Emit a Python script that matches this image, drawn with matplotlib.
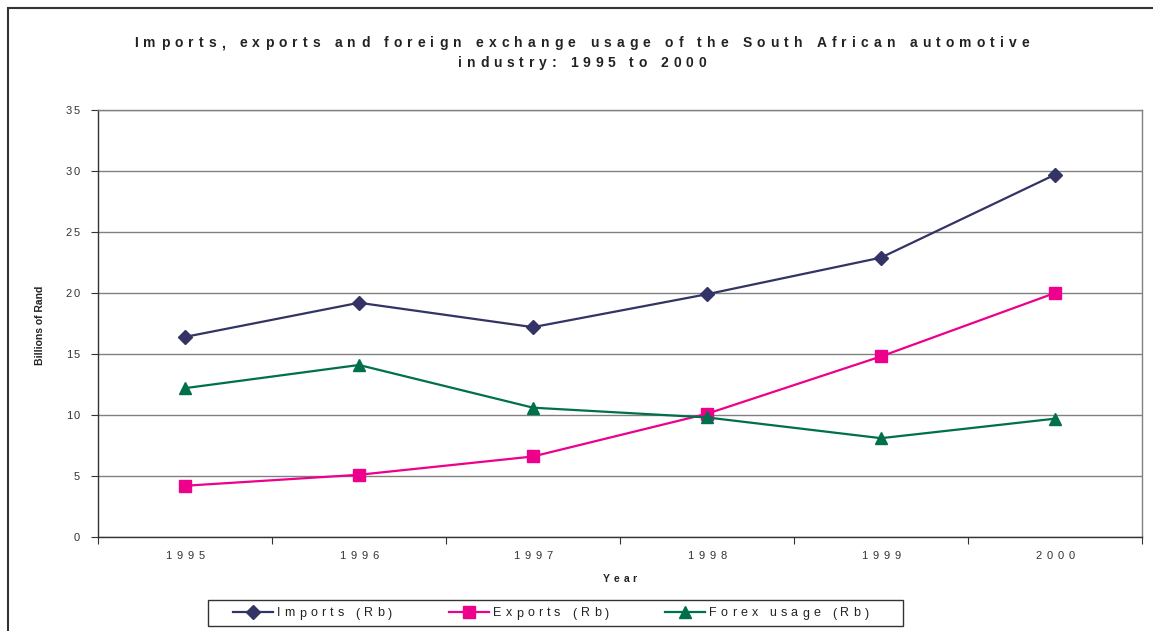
import matplotlib
matplotlib.use("Agg")
import matplotlib.pyplot as plt
import matplotlib.transforms as mtransforms
from matplotlib.font_manager import FontProperties, findfont, get_font
from matplotlib.lines import Line2D
from matplotlib.patches import Rectangle

years = ["1995", "1996", "1997", "1998", "1999", "2000"]
imports_rb = [16.4, 19.2, 17.2, 19.9, 22.9, 29.7]
exports_rb = [4.2, 5.1, 6.6, 10.1, 14.8, 20.0]
forex_rb = [12.2, 14.1, 10.6, 9.8, 8.1, 9.7]

series_labels = ["Imports (Rb)", "Exports (Rb)", "Forex usage (Rb)"]
series_colors = ["#333366", "#EC008C", "#00704A"]
series_markers = ["D", "s", "^"]
series_msize = [7, 8, 9]

FONT = "Liberation Sans"
W, H = 1153, 631


def tracked_text(fig, s, x, y, transform, size, weight="normal", track=2.0,
                 ha="center", va="baseline", color="#222222"):
    """Draw text char by char with extra letter spacing (track, in points)."""
    fp = FontProperties(family=FONT, weight=weight, size=size)
    font = get_font(findfont(fp))
    font.set_size(size, 72)
    advs = []
    for ch in s:
        g = font.load_char(ord(ch))
        advs.append(g.linearHoriAdvance / 65536.0)
    total = sum(advs) + track * (len(s) - 1)
    if ha == "center":
        start = -total / 2
    elif ha == "right":
        start = -total
    else:
        start = 0.0
    pos = start
    for ch, a in zip(s, advs):
        if ch != " ":
            tr = mtransforms.offset_copy(transform, fig=fig, x=pos, y=0, units="points")
            fig.text(x, y, ch, transform=tr, fontproperties=fp, ha="left", va=va,
                     color=color)
        pos += a + track


fig = plt.figure(figsize=(W / 100, H / 100), dpi=100)
ax = fig.add_axes([98 / W, 1 - 537 / H, (1142 - 98) / W, (537 - 110) / H])

x = list(range(len(years)))
for vals, lab, col, mk, ms in zip([imports_rb, exports_rb, forex_rb], series_labels,
                                  series_colors, series_markers, series_msize):
    ax.plot(x, vals, color=col, lw=1.6, marker=mk, markersize=ms,
            markeredgecolor=col, markerfacecolor=col, label=lab, zorder=3)

ax.set_xlim(-0.5, len(years) - 0.5)
ax.set_ylim(0, 35)
ax.set_yticks(range(0, 36, 5))
ax.yaxis.grid(True, color="#808080", lw=1.0)
ax.set_axisbelow(True)

# category ticks sit between the years
ax.set_xticks([i + 0.5 for i in range(-1, len(years))])
ax.set_xticklabels([])
ax.set_yticklabels([])
ax.tick_params(axis="both", direction="out", length=5, width=0.8, color="#333333")

for side in ["top", "right"]:
    ax.spines[side].set_color("#808080")
    ax.spines[side].set_linewidth(1.0)
for side in ["left", "bottom"]:
    ax.spines[side].set_color("#333333")
    ax.spines[side].set_linewidth(1.0)

# tick labels
ytrans = ax.get_yaxis_transform()
for v in range(0, 36, 5):
    tracked_text(fig, str(v), -0.017, v, ytrans, 8, track=1.6, ha="right",
                 va="center_baseline", color="#333333")
xtrans = ax.get_xaxis_transform()
for i, yr in enumerate(years):
    tracked_text(fig, yr, i, -0.033, xtrans, 8, track=3.6, ha="center",
                 va="top", color="#333333")

# axis titles
tracked_text(fig, "Year", 620 / W, 1 - 582 / H, fig.transFigure, 7.5, weight="bold",
             track=2.6, ha="center", color="#222222")
fig.text(40 / W, 1 - 325 / H, "Billions of Rand", rotation=90, ha="center",
         va="center", fontsize=7.5, fontweight="bold", family=FONT, color="#222222")

# title
tracked_text(fig, "Imports, exports and foreign exchange usage of the South African automotive",
             582 / W, 1 - 47 / H, fig.transFigure, 10, weight="bold", track=3.7,
             color="#222222")
tracked_text(fig, "industry: 1995 to 2000", 582 / W, 1 - 67 / H, fig.transFigure, 10,
             weight="bold", track=3.5, color="#222222")

# legend box
fig.add_artist(Rectangle((208 / W, 1 - 626 / H), (903 - 208) / W, 26 / H,
                         transform=fig.transFigure, fill=False, edgecolor="#333333",
                         lw=1.0))
leg_handles = [(233, 277), (449, 493), (665, 709)]
ly = 1 - 612 / H
for (hx, tx), lab, col, mk, ms in zip(leg_handles, series_labels, series_colors,
                                      series_markers, series_msize):
    fig.add_artist(Line2D([hx / W, (hx + 40) / W], [ly, ly], transform=fig.transFigure,
                          color=col, lw=1.6))
    fig.add_artist(Line2D([(hx + 20) / W], [ly], transform=fig.transFigure, color=col,
                          marker=mk, markersize=ms, markerfacecolor=col,
                          markeredgecolor=col))
    tracked_text(fig, lab, tx / W, ly, fig.transFigure, 9, track=3.0, ha="left",
                 va="center_baseline", color="#222222")

# outer chart border (runs off the right and bottom edges)
fig.add_artist(Rectangle((7.5 / W, -0.1), 1.2, 1 - 7.5 / H + 0.1,
                         transform=fig.transFigure, fill=False, edgecolor="#333333",
                         lw=1.5))

fig.savefig("out.png", dpi=100)
